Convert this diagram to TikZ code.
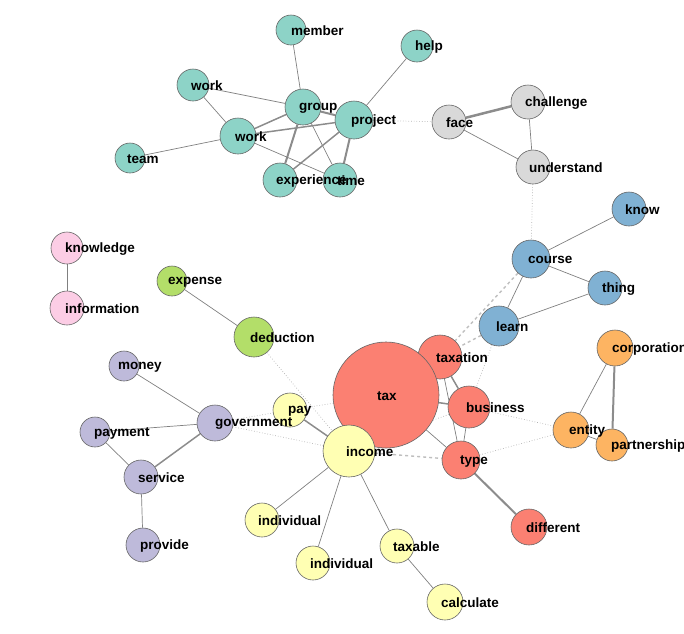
\documentclass[tikz,border=0pt]{standalone}
\usepackage{fontspec}
\setmainfont{Liberation Sans}
\usetikzlibrary{backgrounds}
\begin{document}
\begin{tikzpicture}[x=1pt,y=-1pt,
 n/.style={circle,draw=black!60,line width=0.6pt,inner sep=0pt},
 lb/.style={anchor=west,inner sep=0pt,font=\bfseries\fontsize{13.5}{14}\selectfont},
 e/.style={draw=black!50,line width=0.7pt},
 ek/.style={draw=black!45,line width=2pt},
 ed/.style={draw=black!30,line width=0.7pt,dotted},
 eh/.style={draw=black!25,line width=1.4pt,dashed},
]
\useasboundingbox (0,0) rectangle (684,633);
\definecolor{cT}{HTML}{8DD3C7}\definecolor{cG}{HTML}{D9D9D9}
\definecolor{cB}{HTML}{80B1D3}\definecolor{cP}{HTML}{FCCDE5}
\definecolor{cL}{HTML}{B3DE69}\definecolor{cR}{HTML}{FB8072}
\definecolor{cO}{HTML}{FDB462}\definecolor{cV}{HTML}{BEBADA}
\definecolor{cY}{HTML}{FFFFB3}
\foreach \nm/\x/\y/\r/\c in {member/291/30/15/cT,help/417/46/16/cT,work/193/85/16/cT,group/303/107/18/cT,project/354/120/19/cT,team/130/158/15/cT,worktwo/238/136/18/cT,experience/280/180/17/cT,time/340/180/17/cT,
face/449/122/17/cG,challenge/528/102/17/cG,understand/533/167/17/cG,
know/629/209/17/cB,course/531/259/19/cB,thing/605/288/17/cB,learn/499/326/20/cB,
knowledge/67/248/16/cP,information/67/308/17/cP,expense/172/281/15/cL,deduction/254/337/20/cL,
corporation/615/348/18/cO,entity/571/430/18/cO,partnership/612/445/16/cO,
taxation/440/357/22/cR,tax/386/395/53/cR,business/469/407/21/cR,type/461/460/19/cR,different/529/527/18/cR,
money/124/366/15/cV,government/215/423/18/cV,payment/95/432/15/cV,service/141/477/17/cV,provide/143/545/17/cV,
pay/290/410/17/cY,income/349/451/26/cY,individual/262/520/17/cY,individualtwo/313/563/17/cY,taxable/397/546/17/cY,calculate/445/602/18/cY}
 \node[n,fill=\c,minimum size=2*\r] (\nm) at (\x,\y) {};
\foreach \nm/\t/\d in {member/member/0,help/help/-2,work/work/-2,group/group/-4,project/project/-3,team/team/-3,worktwo/work/-3,experience/experience/-4,time/time/-3,
face/face/-3,challenge/challenge/-3,understand/understand/-4,know/know/-4,course/course/-3,thing/thing/-3,learn/learn/-3,
knowledge/knowledge/-2,information/information/-2,expense/expense/-4,deduction/deduction/-4,corporation/corporation/-3,entity/entity/-2,partnership/partnership/-1,
taxation/taxation/-4,tax/tax/-9,business/business/-3,type/type/-1,different/different/-3,money/money/-6,government/government/0,payment/payment/-1,service/service/-3,provide/provide/-3,
pay/pay/-2,income/income/-3,individual/individual/-4,individualtwo/individual/-3,taxable/taxable/-4,calculate/calculate/-4}
 \node[lb] at ([xshift=\d pt,yshift=-1pt]\nm.center) {\t};
\begin{scope}[on background layer]
\draw[e] (member)--(group); \draw[e] (help)--(project); \draw[e] (work)--(group); \draw[e] (work)--(worktwo);
\draw[ek] (group)--(project); \draw[ek,line width=1.5pt] (group)--(worktwo); \draw[ek] (group)--(experience); \draw[e] (group)--(time);
\draw[ek,line width=1.5pt] (project)--(worktwo); \draw[ek,line width=1.5pt] (project)--(experience); \draw[ek] (project)--(time);
\draw[e] (worktwo)--(time); \draw[e] (team)--(worktwo);
\draw[ed] (project)--(face); \draw[ek,line width=2.5pt] (face)--(challenge); \draw[e] (face)--(understand); \draw[e] (challenge)--(understand);
\draw[ed] (understand)--(course); \draw[e] (course)--(know); \draw[e] (course)--(thing); \draw[e] (course)--(learn); \draw[e] (learn)--(thing);
\draw[eh] (course)--(taxation); \draw[eh] (learn)--(taxation); \draw[ed] (learn)--(business);
\draw[e] (knowledge)--(information); \draw[e] (expense)--(deduction);
\draw[ed] (deduction)--(income);
\draw[e] (tax)--(taxation); \draw[ek,line width=1.5pt] (tax)--(business); \draw[e] (tax)--(type);
\draw[ek,line width=1.5pt] (taxation)--(business); \draw[e] (taxation)--(type); \draw[e] (business)--(type);
\draw[ed] (business)--(entity); \draw[ed] (type)--(entity); \draw[ed] (business)--(income);
\draw[e] (entity)--(corporation); \draw[e] (entity)--(partnership); \draw[ek] (corporation)--(partnership);
\draw[ek] (type)--(different); \draw[eh] (income)--(type);
\draw[ed] (tax)--(pay); \draw[ek,line width=1.5pt] (pay)--(income);
\draw[ed] (government)--(pay); \draw[ed] (government)--(income);
\draw[e] (money)--(government); \draw[e] (payment)--(government); \draw[e] (payment)--(service); \draw[ek,line width=1.5pt] (government)--(service); \draw[e] (service)--(provide);
\draw[e] (income)--(individual); \draw[e] (income)--(individualtwo); \draw[e] (income)--(taxable); \draw[e] (taxable)--(calculate);
\end{scope}
\end{tikzpicture}
\end{document}
